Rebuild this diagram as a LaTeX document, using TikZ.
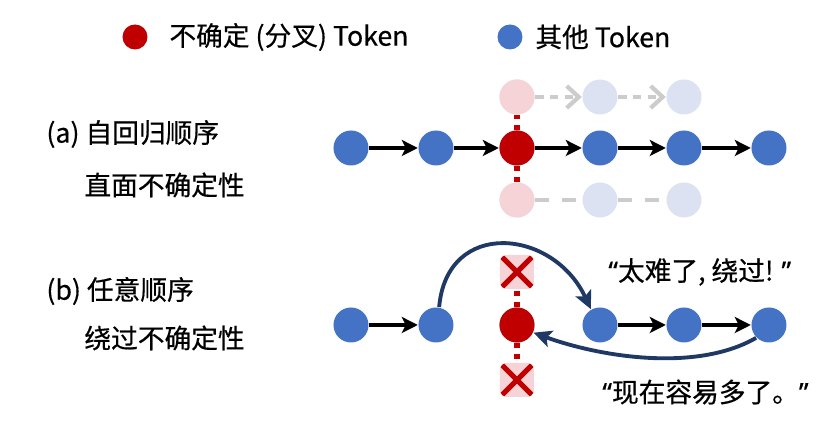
\documentclass[tikz,border=0pt]{standalone}
\usepackage{fontspec}
\setmainfont{Noto Sans CJK SC}[FakeBold=0.5]
\newfontfamily\quotefont{Noto Sans}[FakeBold=0.5]
\usetikzlibrary{arrows.meta}
\definecolor{tokred}{HTML}{C00000}
\definecolor{tokblue}{HTML}{4472C4}
\definecolor{palered}{HTML}{F6D3D6}
\definecolor{paleblue}{HTML}{DDE2F2}
\definecolor{navy}{HTML}{203864}
\newcommand{\openq}{{\quotefont “}}
\newcommand{\closeq}{{\quotefont ”}}
\tikzset{
	tok/.style={circle,minimum size=0.35cm,inner sep=0pt},
	nextarrow/.style={line width=1pt,-{Stealth[length=1.6mm,width=1.6mm,inset=0.4mm]}},
	ghostarrow/.style={line width=1.2pt,gray!40,dash pattern=on 2.4pt off 1.8pt},
	fork/.style={line width=1.6pt,tokred,dash pattern=on 1.5pt off 1.6pt},
	skip/.style={line width=1.1pt,navy,-{Stealth[length=1.8mm,width=1.7mm,inset=0.4mm]}},
	xbox/.style={rectangle,rounded corners=2pt,minimum size=0.34cm,inner sep=0pt,fill=palered,
		path picture={
			\draw[tokred,line width=1.5pt]
			([shift={(0.02,0.02)}]path picture bounding box.south west) -- ([shift={(-0.02,-0.02)}]path picture bounding box.north east)
			([shift={(0.02,-0.02)}]path picture bounding box.north west) -- ([shift={(-0.02,0.02)}]path picture bounding box.south east);
		}},
}
\begin{document}
\begin{tikzpicture}[font=\fontsize{7.6}{9}\selectfont]
\useasboundingbox (0,0) rectangle (8.3,4.28);

% legend
\node[tok,fill=tokred,minimum size=0.25cm](keyred) at(1.35,3.91){};
\node[anchor=west](keyredtext) at(1.57,3.91){不确定 (分叉) Token};
\node[tok,fill=tokblue,minimum size=0.25cm](keyblue) at(5.10,3.91){};
\node[anchor=west](keybluetext) at(5.23,3.91){其他 Token};

% row labels
\node[anchor=west](la1) at(0.34,2.94){(a) 自回归顺序};
\node[anchor=west](la2) at(0.72,2.43){直面不确定性};
\node[anchor=west](lb1) at(0.34,1.37){(b) 任意顺序};
\node[anchor=west](lb2) at(0.72,0.90){绕过不确定性};

% ghost branches
\foreach[count=\i] \x in {5.17,6.00,6.84}{
	\node[tok,fill=paleblue](t\i) at(\x,3.31){};
	\node[tok,fill=paleblue](d\i) at(\x,2.28){};
}
\node[tok,fill=palered](t1) at(5.17,3.31){};
\node[tok,fill=palered](d1) at(5.17,2.28){};

\foreach \u/\v in {t1/t2,t2/t3}{
	\draw[ghostarrow,-{Straight Barb[length=1.2mm,width=2.2mm]}] (\u) -- (\v);
}
\foreach \u/\v in {d1/d2,d2/d3}{
	\draw[ghostarrow,dash pattern=on 4pt off 3.5pt] (\u) -- (\v);
}

% token chains
\foreach[count=\i] \x in {3.51,4.36,5.17,6.00,6.84,7.69}{
	\node[tok,fill=tokblue](a\i) at(\x,2.80){};
	\node[tok,fill=tokblue](b\i) at(\x,1.03){};
}
\node[tok,fill=tokred](a3) at(5.17,2.80){};
\node[tok,fill=tokred](b3) at(5.17,1.03){};

\node[xbox](x1) at(5.17,1.56){};
\node[xbox](x2) at(5.17,0.48){};

\foreach \u/\v in {a3/t1,a3/d1,b3/x1,b3/x2}{
	\draw[fork] (\u) -- (\v);
}

\foreach \u/\v in {
	a1/a2,a2/a3,a3/a4,a4/a5,a5/a6%
	,b1/b2,b4/b5,b5/b6%
}{
	\draw[nextarrow] (\u) -- (\v);
}

% skipping around the fork
\draw[skip] (b2.80) to[out=85,in=115,looseness=1.5] (b4.120);
\draw[skip] (b6.225) to[out=-150,in=-20,looseness=0.8] (b3.-25);

\node[anchor=west](say1) at(5.96,1.56){\openq 太难了, 绕过! \closeq};
\node[anchor=west](say2) at(5.90,0.36){\openq 现在容易多了。\closeq};

\end{tikzpicture}
\end{document}
